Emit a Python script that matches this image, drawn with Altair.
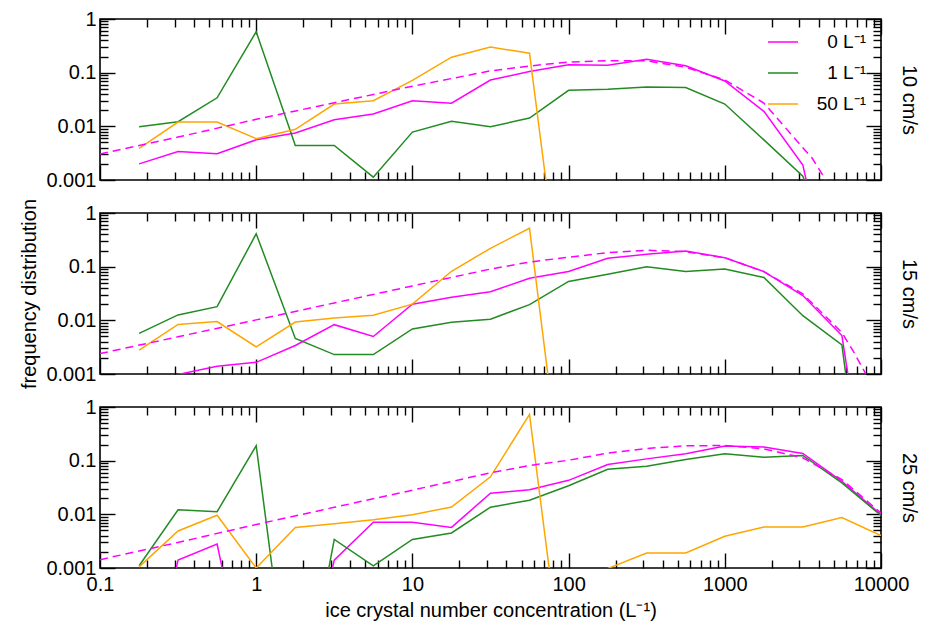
import altair as alt
import pandas as pd

FONT = "Liberation Sans"

# bin centres of ice crystal number concentration (L^-1)
conc = [0.178, 0.316, 0.562, 1, 1.78, 3.16, 5.62, 10, 17.8, 31.6, 56.2, 100,
        178, 316, 562, 1000, 1780, 3160, 5620, 10000]

series = ["0 L\u207b\u00b9", "1 L\u207b\u00b9", "50 L\u207b\u00b9"]
colors = ["#ff00ff", "#228b22", "#ffa500"]
panels = ["10 cm/s", "15 cm/s", "25 cm/s"]

# ---- 10 cm/s ----
w10_n0 = [0.002, 0.0034, 0.0031, 0.0056, 0.0075, 0.0133, 0.017, 0.030, 0.027, 0.073,
          0.105, 0.14, 0.138, 0.178, 0.134, 0.070, 0.019, 0.0019, 1e-6, None]
w10_n1 = [0.0098, 0.0122, 0.034, 0.58, 0.0044, 0.0044, 0.00113, 0.0078, 0.0124, 0.0098,
          0.0143, 0.047, 0.049, 0.054, 0.053, 0.026, 0.0056, 0.00118, 1e-5, None]
w10_n50 = [0.0039, 0.012, 0.012, 0.0059, 0.0088, 0.026, 0.030, 0.072, 0.194, 0.30,
           0.23, 5e-7, None, None, None, None, None, None, None, None]
fit10_x = [0.1, 0.316, 1, 3.16, 10, 31.6, 56.2, 100, 178, 316, 562, 1000, 1780, 3160,
           3610, 4350, 5620]
fit10_y = [0.00305, 0.0063, 0.0135, 0.0275, 0.056, 0.108, 0.133, 0.158, 0.167, 0.166,
           0.126, 0.0735, 0.0271, 0.0040, 0.0026, 0.0011, 0.00026]

# ---- 15 cm/s ----
w15_n0 = [None, 0.00098, 0.0014, 0.00165, 0.0034, 0.0083, 0.005, 0.020, 0.027, 0.034,
          0.061, 0.081, 0.143, 0.17, 0.196, 0.147, 0.081, 0.029, 0.0052, 1e-7]
w15_n1 = [0.0057, 0.0126, 0.018, 0.41, 0.0046, 0.0023, 0.0023, 0.0069, 0.0092, 0.0105,
          0.0196, 0.053, 0.072, 0.10, 0.081, 0.09, 0.063, 0.0122, 0.0035, 1e-8]
w15_n50 = [0.0028, 0.0084, 0.0095, 0.0032, 0.0093, 0.011, 0.0124, 0.020, 0.082, 0.22,
           0.52, 8e-7, None, None, None, None, None, None, None, None]
fit15_x = [0.1, 0.316, 1, 3.16, 10, 31.6, 56.2, 100, 178, 316, 562, 1000, 1780, 3160,
           5620, 6670, 8000, 10000]
fit15_y = [0.0024, 0.00495, 0.0102, 0.0211, 0.0437, 0.0902, 0.122, 0.150, 0.183, 0.202,
           0.19, 0.147, 0.0807, 0.031, 0.0059, 0.0026, 0.001, 0.00028]

# ---- 25 cm/s ----
w25_n0 = [1e-6, 0.0014, 0.0028, 1e-6, 1e-6, 0.0014, 0.0071, 0.0071, 0.0057, 0.0248,
          0.0286, 0.043, 0.085, 0.108, 0.134, 0.187, 0.179, 0.136, 0.041, 0.0099]
w25_n1 = [0.0011, 0.0122, 0.0112, 0.19, 5e-7, 0.0034, 0.0011, 0.0034, 0.0045, 0.0136,
          0.0183, 0.034, 0.069, 0.079, 0.105, 0.134, 0.116, 0.125, 0.0386, 0.0095]
w25_n50 = [0.00105, 0.0049, 0.0096, 0.001, 0.0057, 0.0067, 0.0079, 0.0098, 0.0137, 0.050,
           0.73, 1.4e-6, 0.00098, 0.0019, 0.0019, 0.0039, 0.0058, 0.0058, 0.0087, 0.004]
fit25_x = [0.1, 0.316, 1, 3.16, 10, 31.6, 56.2, 100, 178, 316, 562, 1000, 1780, 3160,
           5620, 10000]
fit25_y = [0.00143, 0.0030, 0.00646, 0.0135, 0.0282, 0.0593, 0.0813, 0.102, 0.138, 0.169,
           0.189, 0.192, 0.166, 0.113, 0.0445, 0.0106]

# axis tick values
x_major = [0.1, 1, 10, 100, 1000, 10000]
y_major = [0.001, 0.01, 0.1, 1]
minor_mult = [2, 3, 4, 5, 6, 7, 8, 9]
x_minor = [m * d for d in x_major[:-1] for m in minor_mult]
y_minor = [m * d for d in y_major[:-1] for m in minor_mult]

solid_sets = {
    panels[0]: [w10_n0, w10_n1, w10_n50],
    panels[1]: [w15_n0, w15_n1, w15_n50],
    panels[2]: [w25_n0, w25_n1, w25_n50],
}
fit_sets = {
    panels[0]: (fit10_x, fit10_y),
    panels[1]: (fit15_x, fit15_y),
    panels[2]: (fit25_x, fit25_y),
}

rows = []
for p, lists in solid_sets.items():
    for s, vals in zip(series, lists):
        for xv, yv in zip(conc, vals):
            if yv is not None:
                rows.append({"panel": p, "series": s, "conc": xv, "freq": yv})
solid_df = pd.DataFrame(rows)

frows = []
for p, (fx, fy) in fit_sets.items():
    for xv, yv in zip(fx, fy):
        frows.append({"panel": p, "conc": xv, "freq": yv})
fit_df = pd.DataFrame(frows)

W, H = 781, 161
xscale = alt.Scale(type="log", domain=[0.1, 10000], nice=False)
yscale = alt.Scale(type="log", domain=[0.001, 1], nice=False)


def tick_axis(orient, values, offset, size):
    return alt.Axis(orient=orient, offset=offset, values=values, labels=False,
                    domain=False, grid=False, title=None, ticks=True,
                    tickSize=size, tickWidth=1.4, tickColor="black", minExtent=0)


def panel(i):
    p = panels[i]
    first = i == 0
    last = i == len(panels) - 1
    d = solid_df[solid_df.panel == p]
    f = fit_df[fit_df.panel == p]

    if first:
        legend = alt.Legend(orient="none", legendX=667, legendY=7, title=None,
                            symbolType="stroke", symbolSize=900, symbolStrokeWidth=1.5,
                            labelFontSize=19, labelFont=FONT, labelColor="black",
                            labelAlign="right", labelOffset=67, rowPadding=5,
                            padding=0, labelLimit=200)
    else:
        legend = None

    if last:
        x_lab = alt.Axis(orient="bottom", values=x_major, format="~g", ticks=False,
                         tickSize=0, domain=False, grid=False, labelFlush=False,
                         labelOverlap=False, labelPadding=6, labelFontSize=20,
                         title="ice crystal number concentration (L\u207b\u00b9)",
                         titleFontSize=20, titleFontWeight="normal", titlePadding=6,
                         minExtent=0)
    else:
        x_lab = None

    y_lab = alt.Axis(orient="left", values=y_major, format="~g", ticks=False,
                     tickSize=0, domain=False, grid=False, labelOverlap=False,
                     labelFlush=False, labelPadding=4, labelFontSize=20,
                     title="frequency distribution" if i == 1 else None,
                     titleFontSize=20, titleFontWeight="normal", titlePadding=6,
                     minExtent=0)

    y_right_title = alt.Axis(orient="right", values=y_major, labels=False, ticks=False,
                             tickSize=0, domain=False, grid=False, title=p,
                             titleFontSize=20, titleFontWeight="normal",
                             titlePadding=17, titleAngle=90, minExtent=0)

    solid = alt.Chart(d).mark_line(strokeWidth=1.5, clip=True).encode(
        x=alt.X("conc:Q", scale=xscale, axis=x_lab),
        y=alt.Y("freq:Q", scale=yscale, axis=y_lab),
        color=alt.Color("series:N", scale=alt.Scale(domain=series, range=colors),
                        legend=legend),
    )
    dashed = alt.Chart(f).mark_line(strokeWidth=1.5, strokeDash=[8, 5],
                                    color="#ff00ff", clip=True).encode(
        x=alt.X("conc:Q", scale=xscale, axis=tick_axis("top", x_major, -H, 15)),
        y=alt.Y("freq:Q", scale=yscale, axis=tick_axis("right", y_major, -W, 15)),
    )

    def ghost(xaxis, yaxis):
        return alt.Chart(f).transform_filter("datum.freq >= 0.001").mark_point(
            opacity=0, clip=True).encode(
            x=alt.X("conc:Q", scale=xscale, axis=xaxis),
            y=alt.Y("freq:Q", scale=yscale, axis=yaxis),
        )

    layers = [
        solid,
        dashed,
        ghost(tick_axis("top", x_minor, -H, 8), tick_axis("right", y_minor, -W, 8)),
        ghost(tick_axis("bottom", x_major, -H, 15), tick_axis("left", y_major, -W, 15)),
        ghost(tick_axis("bottom", x_minor, -H, 8), tick_axis("left", y_minor, -W, 8)),
        ghost(None, y_right_title),
    ]
    return alt.layer(*layers).resolve_axis(x="independent", y="independent").properties(
        width=W, height=H,
    )


chart = alt.vconcat(panel(0), panel(1), panel(2), spacing=33, bounds="flush").resolve_legend(
    color="independent"
).properties(
    padding={"left": 11, "top": 0, "right": 0, "bottom": 0}
).configure(font=FONT).configure_view(
    stroke="black", strokeWidth=1.6
).configure_axis(
    labelColor="black", titleColor="black", labelFont=FONT, titleFont=FONT
)

chart.save("out.html", embed_options={"renderer": "svg", "actions": False})
